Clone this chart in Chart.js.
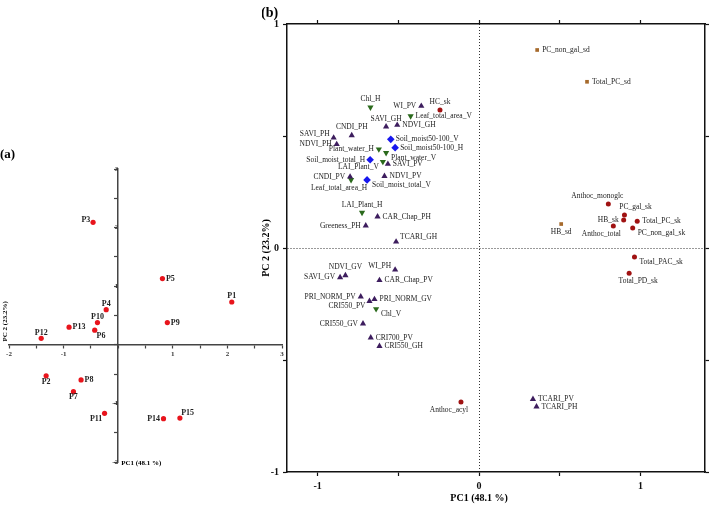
<!DOCTYPE html>
<html>
<head>
<meta charset="utf-8">
<script src="https://cdn.jsdelivr.net/npm/chart.js@4"></script>
<style>
  html, body { margin: 0; padding: 0; background: #fff; }
  body { width: 709px; height: 506px; position: relative; overflow: hidden; }
  canvas { position: absolute; top: 0; }
  #chartA { left: 0; }
  #chartB { left: 262px; }
</style>
</head>
<body>
<canvas id="chartA" width="286" height="506"></canvas>
<canvas id="chartB" width="447" height="506"></canvas>
<script>
// ---- (a) PCA scores ----
const scoreNames = ['P1', 'P2', 'P3', 'P4', 'P5', 'P6', 'P7', 'P8', 'P9', 'P10', 'P11', 'P12', 'P13', 'P14', 'P15'];
const scoreX = [2.08, -1.32, -0.46, -0.22, 0.81, -0.43, -0.82, -0.68, 0.90, -0.38, -0.25, -1.41, -0.90, 0.83, 1.13];
const scoreY = [0.73, -0.53, 2.09, 0.60, 1.13, 0.25, -0.80, -0.60, 0.38, 0.38, -1.17, 0.11, 0.30, -1.26, -1.25];
const scoreTicks = [-2, -1.5, -1, -0.5, 0, 0.5, 1, 1.5, 2, 2.5, 3];
const scoreTickLabels = [-2, -1, 1, 2, 3];

// ---- (b) loadings ----
const indexNames = ['WI_PV', 'SAVI_GH', 'NDVI_GH', 'CNDI_PH', 'SAVI_PH', 'NDVI_PH', 'SAVI_PV', 'NDVI_PV', 'CNDI_PV',
  'CAR_Chap_PH', 'Greeness_PH', 'TCARI_GH', 'NDVI_GV', 'SAVI_GV', 'WI_PH', 'CAR_Chap_PV', 'PRI_NORM_PV', 'PRI_NORM_GV',
  'CRI550_PV', 'CRI550_GV', 'CRI700_PV', 'CRI550_GH', 'TCARI_PV', 'TCARI_PH'];
const indexX = [-0.358, -0.576, -0.507, -0.789, -0.901, -0.882, -0.565, -0.586, -0.799, -0.629, -0.702, -0.514, -0.828,
  -0.861, -0.520, -0.617, -0.733, -0.648, -0.679, -0.719, -0.671, -0.617, 0.334, 0.356];
const indexY = [0.634, 0.542, 0.549, 0.503, 0.492, 0.463, 0.375, 0.321, 0.318, 0.140, 0.100, 0.028, -0.122, -0.131,
  -0.097, -0.144, -0.217, -0.229, -0.237, -0.338, -0.400, -0.438, -0.675, -0.708];

const plantNames = ['Chl_H', 'Leaf_total_area_V', 'Plant_water_H', 'Plant_water_V', 'LAI_Plant_V', 'Leaf_total_area_H', 'LAI_Plant_H', 'Chl_V'];
const plantX = [-0.673, -0.424, -0.621, -0.576, -0.596, -0.793, -0.725, -0.638];
const plantY = [0.628, 0.589, 0.441, 0.425, 0.385, 0.304, 0.158, -0.272];

const soilNames = ['Soil_moist50-100_V', 'Soil_moist50-100_H', 'Soil_moist_total_H', 'Soil_moist_total_V'];
const soilX = [-0.547, -0.520, -0.675, -0.694];
const soilY = [0.485, 0.448, 0.394, 0.304];

const skinNames = ['HC_sk', 'Anthoc_acyl', 'Anthoc_monoglc', 'PC_gal_sk', 'HB_sk', 'Total_PC_sk', 'Anthoc_total', 'PC_non_gal_sk', 'Total_PAC_sk', 'Total_PD_sk'];
const skinX = [-0.242, -0.112, 0.801, 0.901, 0.896, 0.980, 0.832, 0.952, 0.963, 0.930];
const skinY = [0.616, -0.688, 0.196, 0.147, 0.125, 0.119, 0.098, 0.089, -0.040, -0.113];

const seedNames = ['PC_non_gal_sd', 'Total_PC_sd', 'HB_sd'];
const seedX = [0.360, 0.669, 0.509];
const seedY = [0.884, 0.742, 0.107];

const loadTicks = [-1, -0.5, 0, 0.5, 1];
const loadTickLabels = [-1, 0, 1];

// label placement (style only)
const scorePlace = ['t', 'b', 'lu', 't', 'r', 'br', 'b', 'r', 'r', 't', 'bl', 't', 'r', 'l', 'tr'];
const indexPlace = ['l', 't', 'r', 't', 'lu', 'l', 'r', 'r', 'l', 'r', 'l', 'ru', 't', 'l', 'lu', 'r', 'l', 'r', 'ld', 'l', 'r', 'r', 'r', 'r'];
const plantPlace = ['t', 'r', 'l', 'rd', 'ld', 'bl', 't', 'rd'];
const soilPlace = ['r', 'r', 'l', 'rd'];
const skinPlace = ['t', 'bl', 'tl', 'tr', 'l', 'r', 'bl', 'rd', 'rd', 'br'];
const seedPlace = ['r', 'r', 'b'];

const SERIF = "'Liberation Serif', 'Times New Roman', serif";

const toPoints = (xs, ys) => xs.map((x, i) => ({ x: x, y: ys[i] }));

const placeOffsets = {
  r: [5, 0, 'left'], rd: [5, 5, 'left'], ru: [4, -5, 'left'],
  l: [-5, 0, 'right'], lu: [-4, -4, 'right'], ld: [-4, 5, 'right'],
  t: [0, -8, 'center'], b: [0, 8, 'center'],
  tl: [-11, -8, 'center'], tr: [11, -8, 'center'],
  bl: [-12, 8, 'center'], br: [9, 8, 'center']
};

// writes the name next to each point
const pointLabels = {
  id: 'pointLabels',
  afterDatasetsDraw(chart, args, opts) {
    const ctx = chart.ctx;
    ctx.save();
    ctx.font = opts.font;
    ctx.fillStyle = opts.color;
    ctx.textBaseline = 'middle';
    chart.data.datasets.forEach((ds, i) => {
      chart.getDatasetMeta(i).data.forEach((pt, j) => {
        const p = placeOffsets[ds.place[j]] || placeOffsets.r;
        ctx.textAlign = p[2];
        ctx.fillText(ds.names[j], pt.x + p[0] * opts.scale, pt.y + p[1] * opts.scale);
      });
    });
    ctx.restore();
  }
};

function drawText(ctx, text, x, y, font, align, rot) {
  ctx.save();
  ctx.translate(x, y);
  if (rot) ctx.rotate(rot);
  ctx.font = font;
  ctx.fillStyle = '#000';
  ctx.textAlign = align || 'center';
  ctx.textBaseline = 'middle';
  ctx.fillText(text, 0, 0);
  ctx.restore();
}

function fixedTicks(values) {
  return axis => { axis.ticks = values.map(v => ({ value: v })); };
}

// ---------- chart (a) ----------
new Chart(document.getElementById('chartA'), {
  type: 'scatter',
  data: {
    datasets: [{
      data: toPoints(scoreX, scoreY),
      names: scoreNames,
      place: scorePlace,
      pointStyle: 'circle',
      pointRadius: 2.6,
      backgroundColor: '#e8141c',
      borderColor: '#e8141c',
      borderWidth: 0
    }]
  },
  options: {
    responsive: false,
    animation: false,
    events: [],
    layout: { padding: { left: 9, right: 3, top: 169, bottom: 44 } },
    plugins: {
      legend: { display: false },
      tooltip: { enabled: false },
      pointLabels: { font: 'bold 8px ' + SERIF, color: '#222', scale: 0.7 }
    },
    scales: {
      x: {
        type: 'linear', min: -2, max: 3, position: { y: 0 },
        afterBuildTicks: fixedTicks(scoreTicks),
        grid: { drawOnChartArea: false, tickLength: 3, tickColor: '#444', tickWidth: 1.2 },
        border: { color: '#444', width: 1.5 },
        ticks: {
          padding: 2, color: '#333', font: { family: SERIF, size: 7, weight: 'bold' },
          callback: v => scoreTickLabels.includes(v) ? String(v) : ''
        }
      },
      y: {
        type: 'linear', min: -2, max: 3, position: { x: 0 },
        afterBuildTicks: fixedTicks(scoreTicks),
        grid: { drawOnChartArea: false, tickLength: 3, tickColor: '#444', tickWidth: 1.2 },
        border: { color: '#444', width: 1.5 },
        ticks: {
          padding: 3, color: '#333', font: { family: SERIF, size: 7, weight: 'bold' },
          callback: v => scoreTickLabels.includes(v) ? String(v) : ''
        }
      }
    }
  },
  plugins: [pointLabels, {
    id: 'textA',
    afterDraw(chart) {
      const ctx = chart.ctx;
      const xs = chart.scales.x, ys = chart.scales.y;
      drawText(ctx, '(a)', 0, 155, 'bold 13px ' + SERIF, 'left');
      drawText(ctx, 'PC 2 (23.2%)', 5, ys.getPixelForValue(0.4), 'bold 7px ' + SERIF, 'center', -Math.PI / 2);
      drawText(ctx, 'PC1 (48.1 %)', xs.getPixelForValue(0) + 3, ys.getPixelForValue(-2) + 1, 'bold 7px ' + SERIF, 'left');
    }
  }]
});

// ---------- chart (b) ----------
const axisB = (pos, values, withLabels, fitSize) => ({
  type: 'linear', position: pos,
  afterBuildTicks: fixedTicks(values),
  afterFit: s => { if (s.isHorizontal()) s.height = fitSize; else s.width = fitSize; },
  grid: {
    drawOnChartArea: withLabels,
    color: c => (c.tick && c.tick.value === 0) ? '#333' : 'rgba(0,0,0,0)',
    lineWidth: 1,
    tickLength: 4, tickColor: '#111', tickWidth: 1.2
  },
  border: { color: '#111', width: 1.5, dash: [1, 2] },
  ticks: {
    display: withLabels, padding: 4, color: '#111',
    font: { family: SERIF, size: 10, weight: 'bold' },
    callback: v => loadTickLabels.includes(v) ? String(v) : ''
  }
});

const scalesB = {
  x: Object.assign(axisB('bottom', loadTicks, true, 34), { min: -1.19, max: 1.40 }),
  y: Object.assign(axisB('left', loadTicks, true, 25), { min: -1, max: 1 }),
  x2: Object.assign(axisB('top', loadTicks, false, 0), { min: -1.19, max: 1.40 }),
  y2: Object.assign(axisB('right', loadTicks, false, 0), { min: -1, max: 1 })
};

new Chart(document.getElementById('chartB'), {
  type: 'scatter',
  data: {
    datasets: [
      {
        data: toPoints(indexX, indexY), names: indexNames, place: indexPlace,
        pointStyle: 'triangle', pointRadius: 3.6, backgroundColor: '#3d1d5e', borderColor: '#3d1d5e', borderWidth: 0
      },
      {
        data: toPoints(plantX, plantY), names: plantNames, place: plantPlace,
        pointStyle: 'triangle', rotation: 180, pointRadius: 3.6, backgroundColor: '#2b6a1c', borderColor: '#2b6a1c', borderWidth: 0
      },
      {
        data: toPoints(soilX, soilY), names: soilNames, place: soilPlace,
        pointStyle: 'rectRot', pointRadius: 3.8, backgroundColor: '#1717ee', borderColor: '#1717ee', borderWidth: 0
      },
      {
        data: toPoints(skinX, skinY), names: skinNames, place: skinPlace,
        pointStyle: 'circle', pointRadius: 2.5, backgroundColor: '#a01212', borderColor: '#a01212', borderWidth: 0
      },
      {
        data: toPoints(seedX, seedY), names: seedNames, place: seedPlace,
        pointStyle: 'rect', pointRadius: 2.6, backgroundColor: '#a66a2c', borderColor: '#a66a2c', borderWidth: 0
      }
    ]
  },
  options: {
    responsive: false,
    animation: false,
    events: [],
    layout: { padding: { left: 0, right: 3, top: 24, bottom: 0 } },
    plugins: {
      legend: { display: false },
      tooltip: { enabled: false },
      pointLabels: { font: '7.5px ' + SERIF, color: '#222', scale: 1 }
    },
    scales: scalesB
  },
  plugins: [pointLabels, {
    id: 'textB',
    afterDraw(chart) {
      const ctx = chart.ctx;
      const xs = chart.scales.x, ys = chart.scales.y;
      drawText(ctx, '(b)', -1, 13, 'bold 14px ' + SERIF, 'left');
      drawText(ctx, 'PC1 (48.1 %)', xs.getPixelForValue(0), 498, 'bold 10px ' + SERIF, 'center');
      drawText(ctx, 'PC 2 (23.2%)', 4, ys.getPixelForValue(0), 'bold 10px ' + SERIF, 'center', -Math.PI / 2);
    }
  }]
});
</script>
</body>
</html>
